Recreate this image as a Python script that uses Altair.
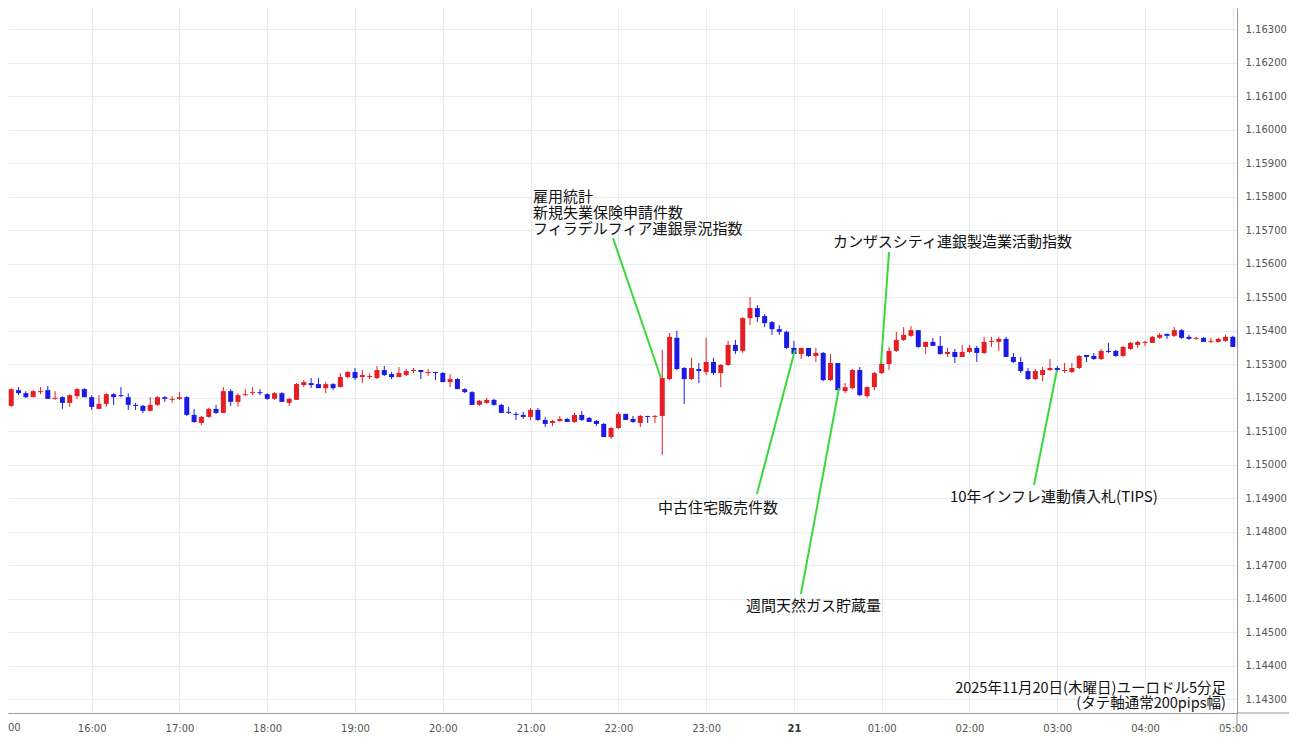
import altair as alt
import pandas as pd

# ---- 5-minute EUR/USD candles, 2025-11-20 15:00 -> 2025-11-21 05:00 ----
opens = [
    1.15157, 1.15175, 1.15222, 1.15213, 1.15201, 1.15216, 1.15222, 1.15196, 1.15201, 1.15184,
    1.15204, 1.15225, 1.15201, 1.15166, 1.15181, 1.15210, 1.15207, 1.15201, 1.15178, 1.15175,
    1.15160, 1.15178, 1.15201, 1.15193, 1.15196, 1.15201, 1.15148, 1.15124, 1.15142, 1.15166,
    1.15154, 1.15219, 1.15187, 1.15207, 1.15213, 1.15216, 1.15210, 1.15196, 1.15213, 1.15184,
    1.15193, 1.15237, 1.15243, 1.15240, 1.15228, 1.15240, 1.15231, 1.15261, 1.15276, 1.15261,
    1.15261, 1.15258, 1.15282, 1.15270, 1.15261, 1.15267, 1.15279, 1.15282, 1.15273, 1.15276,
    1.15273, 1.15246, 1.15255, 1.15225, 1.15216, 1.15178, 1.15184, 1.15193, 1.15178, 1.15157,
    1.15151, 1.15148, 1.15142, 1.15163, 1.15133, 1.15124, 1.15130, 1.15136, 1.15127, 1.15148,
    1.15139, 1.15130, 1.15121, 1.15082, 1.15109, 1.15151, 1.15136, 1.15124, 1.15145, 1.15142,
    1.15145, 1.15255, 1.15378, 1.15288, 1.15255, 1.15285, 1.15276, 1.15306, 1.15273, 1.15297,
    1.15357, 1.15339, 1.15437, 1.15467, 1.15443, 1.15425, 1.15404, 1.15396, 1.15348, 1.15330,
    1.15348, 1.15324, 1.15333, 1.15252, 1.15303, 1.15219, 1.15228, 1.15282, 1.15204, 1.15231,
    1.15273, 1.15300, 1.15339, 1.15372, 1.15384, 1.15401, 1.15351, 1.15366, 1.15354, 1.15330,
    1.15336, 1.15321, 1.15336, 1.15348, 1.15333, 1.15366, 1.15366, 1.15375, 1.15321, 1.15306,
    1.15279, 1.15255, 1.15267, 1.15282, 1.15288, 1.15279, 1.15276, 1.15288, 1.15327, 1.15324,
    1.15315, 1.15339, 1.15339, 1.15324, 1.15345, 1.15357, 1.15363, 1.15363, 1.15378, 1.15390,
    1.15384, 1.15401, 1.15381, 1.15375, 1.15378, 1.15366, 1.15366, 1.15369, 1.15381,
]
highs = [
    1.15181, 1.15228, 1.15231, 1.15219, 1.15222, 1.15231, 1.15234, 1.15219, 1.15204, 1.15210,
    1.15228, 1.15228, 1.15207, 1.15207, 1.15213, 1.15213, 1.15231, 1.15213, 1.15184, 1.15178,
    1.15201, 1.15204, 1.15204, 1.15204, 1.15216, 1.15204, 1.15166, 1.15145, 1.15169, 1.15178,
    1.15231, 1.15225, 1.15213, 1.15225, 1.15231, 1.15225, 1.15213, 1.15216, 1.15216, 1.15199,
    1.15243, 1.15252, 1.15258, 1.15258, 1.15246, 1.15243, 1.15273, 1.15279, 1.15288, 1.15282,
    1.15273, 1.15294, 1.15294, 1.15276, 1.15291, 1.15285, 1.15288, 1.15282, 1.15285, 1.15276,
    1.15276, 1.15270, 1.15258, 1.15228, 1.15219, 1.15193, 1.15199, 1.15196, 1.15181, 1.15172,
    1.15157, 1.15157, 1.15169, 1.15169, 1.15142, 1.15133, 1.15145, 1.15139, 1.15154, 1.15160,
    1.15142, 1.15133, 1.15124, 1.15112, 1.15157, 1.15151, 1.15145, 1.15148, 1.15145, 1.15148,
    1.15342, 1.15393, 1.15399, 1.15291, 1.15318, 1.15303, 1.15378, 1.15318, 1.15300, 1.15369,
    1.15372, 1.15440, 1.15500, 1.15476, 1.15449, 1.15428, 1.15416, 1.15399, 1.15369, 1.15348,
    1.15348, 1.15348, 1.15336, 1.15330, 1.15303, 1.15243, 1.15285, 1.15291, 1.15234, 1.15276,
    1.15306, 1.15351, 1.15396, 1.15410, 1.15413, 1.15401, 1.15366, 1.15378, 1.15384, 1.15348,
    1.15345, 1.15357, 1.15357, 1.15354, 1.15381, 1.15381, 1.15381, 1.15381, 1.15333, 1.15321,
    1.15288, 1.15285, 1.15291, 1.15315, 1.15294, 1.15303, 1.15303, 1.15327, 1.15327, 1.15333,
    1.15345, 1.15363, 1.15342, 1.15354, 1.15366, 1.15369, 1.15369, 1.15384, 1.15393, 1.15390,
    1.15410, 1.15404, 1.15387, 1.15381, 1.15381, 1.15378, 1.15378, 1.15387, 1.15384,
]
lows = [
    1.15151, 1.15172, 1.15207, 1.15199, 1.15201, 1.15210, 1.15196, 1.15193, 1.15166, 1.15172,
    1.15196, 1.15201, 1.15163, 1.15166, 1.15172, 1.15178, 1.15201, 1.15163, 1.15163, 1.15154,
    1.15160, 1.15175, 1.15187, 1.15184, 1.15193, 1.15145, 1.15124, 1.15118, 1.15139, 1.15151,
    1.15154, 1.15175, 1.15172, 1.15204, 1.15207, 1.15207, 1.15193, 1.15193, 1.15187, 1.15175,
    1.15193, 1.15231, 1.15228, 1.15228, 1.15213, 1.15222, 1.15231, 1.15258, 1.15252, 1.15243,
    1.15255, 1.15255, 1.15264, 1.15255, 1.15261, 1.15264, 1.15273, 1.15255, 1.15264, 1.15252,
    1.15246, 1.15231, 1.15225, 1.15213, 1.15178, 1.15175, 1.15181, 1.15175, 1.15154, 1.15151,
    1.15133, 1.15136, 1.15133, 1.15130, 1.15112, 1.15115, 1.15127, 1.15127, 1.15124, 1.15130,
    1.15127, 1.15115, 1.15082, 1.15076, 1.15106, 1.15133, 1.15124, 1.15112, 1.15124, 1.15124,
    1.15028, 1.15252, 1.15282, 1.15181, 1.15252, 1.15243, 1.15267, 1.15267, 1.15231, 1.15294,
    1.15330, 1.15333, 1.15416, 1.15425, 1.15410, 1.15387, 1.15387, 1.15345, 1.15330, 1.15315,
    1.15321, 1.15306, 1.15249, 1.15249, 1.15222, 1.15213, 1.15225, 1.15204, 1.15199, 1.15222,
    1.15270, 1.15282, 1.15336, 1.15369, 1.15381, 1.15348, 1.15330, 1.15354, 1.15327, 1.15321,
    1.15303, 1.15321, 1.15333, 1.15306, 1.15330, 1.15351, 1.15339, 1.15321, 1.15303, 1.15273,
    1.15252, 1.15252, 1.15249, 1.15279, 1.15279, 1.15273, 1.15273, 1.15285, 1.15306, 1.15312,
    1.15312, 1.15333, 1.15321, 1.15321, 1.15342, 1.15348, 1.15354, 1.15363, 1.15375, 1.15375,
    1.15381, 1.15375, 1.15372, 1.15372, 1.15366, 1.15363, 1.15363, 1.15366, 1.15351,
]
closes = [
    1.15175, 1.15225, 1.15213, 1.15201, 1.15219, 1.15219, 1.15196, 1.15199, 1.15184, 1.15207,
    1.15225, 1.15201, 1.15172, 1.15181, 1.15210, 1.15201, 1.15204, 1.15178, 1.15175, 1.15160,
    1.15178, 1.15201, 1.15196, 1.15196, 1.15201, 1.15148, 1.15127, 1.15142, 1.15166, 1.15154,
    1.15219, 1.15187, 1.15207, 1.15210, 1.15216, 1.15213, 1.15196, 1.15213, 1.15187, 1.15196,
    1.15240, 1.15246, 1.15237, 1.15228, 1.15240, 1.15228, 1.15261, 1.15276, 1.15258, 1.15267,
    1.15264, 1.15282, 1.15267, 1.15261, 1.15273, 1.15279, 1.15282, 1.15276, 1.15276, 1.15273,
    1.15246, 1.15255, 1.15225, 1.15216, 1.15178, 1.15190, 1.15193, 1.15178, 1.15154, 1.15154,
    1.15148, 1.15142, 1.15163, 1.15133, 1.15121, 1.15130, 1.15136, 1.15127, 1.15148, 1.15133,
    1.15127, 1.15121, 1.15082, 1.15109, 1.15151, 1.15133, 1.15127, 1.15145, 1.15142, 1.15145,
    1.15258, 1.15381, 1.15285, 1.15255, 1.15288, 1.15279, 1.15306, 1.15273, 1.15297, 1.15357,
    1.15339, 1.15437, 1.15467, 1.15440, 1.15422, 1.15404, 1.15396, 1.15348, 1.15330, 1.15348,
    1.15324, 1.15333, 1.15252, 1.15303, 1.15222, 1.15231, 1.15282, 1.15207, 1.15231, 1.15273,
    1.15300, 1.15339, 1.15372, 1.15387, 1.15401, 1.15351, 1.15366, 1.15354, 1.15330, 1.15336,
    1.15321, 1.15336, 1.15348, 1.15333, 1.15366, 1.15369, 1.15375, 1.15321, 1.15306, 1.15279,
    1.15255, 1.15279, 1.15282, 1.15288, 1.15282, 1.15282, 1.15288, 1.15324, 1.15321, 1.15315,
    1.15339, 1.15336, 1.15324, 1.15351, 1.15363, 1.15366, 1.15366, 1.15381, 1.15387, 1.15384,
    1.15401, 1.15378, 1.15375, 1.15378, 1.15366, 1.15369, 1.15375, 1.15381, 1.15351,
]

# ---- event notes (text anchored in time/price of the first line; "\n" separates lines) ----
note_texts = ["雇用統計\n新規失業保険申請件数\nフィラデルフィア連銀景況指数",
              "カンザスシティ連銀製造業活動指数", "中古住宅販売件数", "週間天然ガス貯蔵量",
              "10年インフレ連動債入札(TIPS)"]
note_times = ["2025-11-20T21:01:40", "2025-11-21T00:26:42", "2025-11-20T22:27:06",
              "2025-11-20T23:27:12", "2025-11-21T01:46:36"]
note_prices = [1.157985, 1.156642, 1.148701, 1.145776, 1.149030]

caption_text = ["2025年11月20日(木曜日)ユーロドル5分足\n(タテ軸通常200pips幅)"]
caption_time = ["2025-11-21T04:55:18"]
caption_price = [1.143299]

# leader lines: from note to candle
line_t1 = ["2025-11-20T21:56:18", "2025-11-21T01:05:00", "2025-11-20T23:34:42",
           "2025-11-21T00:04:48", "2025-11-21T02:44:06"]
line_p1 = [1.156761, 1.156343, 1.149119, 1.146134, 1.149388]
line_t2 = ["2025-11-20T22:29:06", "2025-11-21T00:59:30", "2025-11-21T00:00:42",
           "2025-11-21T00:30:48", "2025-11-21T02:59:48"]
line_p2 = [1.152582, 1.153000, 1.153418, 1.152284, 1.152821]

# y axis tick labels
y_ticks = [round(1.143 + 0.001 * k, 3) for k in range(21)]

# ---------------------------------------------------------------
RED = "#e41e24"
BLUE = "#1a1ae6"
GREEN = "#3ad83a"
GRID = "#e8ecf2"
LABEL = "#555555"
AXIS = "#9a9a9a"
W, H = 1229, 705
PAD_R, PAD_B = 52, 19

times = pd.date_range("2025-11-20 15:00", periods=len(opens), freq="5min")
df = pd.DataFrame({
    "time": times.strftime("%Y-%m-%dT%H:%M:%S"),
    "open": opens, "high": highs, "low": lows, "close": closes,
})
df["dir"] = ["up" if c >= o else "down" for o, c in zip(opens, closes)]
df["btop"] = df[["open", "close"]].max(axis=1)
df["bbot"] = df[["open", "close"]].min(axis=1)

notes = pd.DataFrame({"time": note_times, "price": note_prices, "label": note_texts})
caps = pd.DataFrame({"time": caption_time, "price": caption_price, "label": caption_text})
leads = pd.DataFrame({"t1": line_t1, "p1": line_p1, "t2": line_t2, "p2": line_p2})
one = pd.DataFrame({"label": ["00"]})

hour_ticks = [alt.DateTime(year=t.year, month=t.month, date=t.day, hours=t.hour)
              for t in pd.date_range("2025-11-20 16:00", "2025-11-21 05:00", freq="h")]

xscale = alt.Scale(domain=[alt.DateTime(year=2025, month=11, date=20, hours=15, minutes=2, seconds=48),
                           alt.DateTime(year=2025, month=11, date=21, hours=5, minutes=2, seconds=51)])
yscale = alt.Scale(domain=[1.1425821, 1.1636269], nice=False, zero=False)

xaxis = alt.Axis(
    values=hour_ticks, tickCount=40,
    labelExpr="hours(datum.value) == 0 ? timeFormat(datum.value, '%d') : timeFormat(datum.value, '%H:%M')",
    labelFontWeight={"condition": {"test": "hours(datum.value) == 0", "value": "bold"}, "value": "normal"},
    labelColor={"condition": {"test": "hours(datum.value) == 0", "value": "#333333"}, "value": LABEL},
    grid=True, gridColor=GRID, ticks=False, domainColor=AXIS,
    labelPadding=10, labelFont="DejaVu Sans", labelFontSize=10, labelOverlap=False,
    title=None,
)
yaxis = alt.Axis(
    orient="right", values=y_ticks, tickCount=40, format=".5f",
    grid=True, gridColor=GRID, ticks=False, domainColor=AXIS,
    labelPadding=8, labelFont="DejaVu Sans", labelFontSize=10, labelColor=LABEL,
    labelOverlap=False, title=None,
)

color = alt.Color("dir:N", scale=alt.Scale(domain=["up", "down"], range=[RED, BLUE]), legend=None)

base = alt.Chart(df)
wicks = base.mark_rule(strokeWidth=1, clip=True).encode(
    x=alt.X("time:T", scale=xscale, axis=xaxis),
    y=alt.Y("low:Q", scale=yscale, axis=yaxis),
    y2="high:Q",
    color=color,
)
bodies = base.mark_rule(strokeWidth=5, clip=True).encode(
    x="time:T", y="bbot:Q", y2="btop:Q", color=color,
)

lead_lines = alt.Chart(leads).mark_rule(color=GREEN, strokeWidth=2, clip=True).encode(
    x="t1:T", y="p1:Q", x2="t2:T", y2="p2:Q",
)

note_layer = alt.Chart(notes).mark_text(
    align="left", baseline="middle", font="Noto Sans CJK JP", fontSize=15,
    lineBreak="\n", lineHeight=16, color="#111111",
).encode(x="time:T", y="price:Q", text="label:N")

cap_layer = alt.Chart(caps).mark_text(
    align="right", baseline="middle", font="Noto Sans CJK JP", fontSize=14.5,
    lineBreak="\n", lineHeight=15, color="#111111",
).encode(x="time:T", y="price:Q", text="label:N")

# left-edge fragment of the cut-off "15:00" axis label
edge_label = alt.Chart(one).mark_text(
    align="left", baseline="top", font="DejaVu Sans", fontSize=10, color=LABEL, clip=False,
).encode(x=alt.value(0), y=alt.value(H + 10), text="label:N")

# axis lines continuing into the margin (as in the reference's frame)
frame_h = alt.Chart(one).mark_rule(color=AXIS, strokeWidth=1, clip=False).encode(
    x=alt.value(W), x2=alt.value(W + PAD_R), y=alt.value(H))
frame_v = alt.Chart(one).mark_rule(color=AXIS, strokeWidth=1, clip=False).encode(
    x=alt.value(W), y=alt.value(H), y2=alt.value(H + PAD_B))

chart = alt.layer(wicks, bodies, lead_lines, note_layer, cap_layer, edge_label,
                  frame_h, frame_v).properties(
    width=W, height=H,
    padding={"left": 0, "top": 0, "right": PAD_R, "bottom": PAD_B},
    autosize=alt.AutoSizeParams(type="none"),
    background="white",
).configure_view(stroke=None)

chart.save("out.html", embed_options={"renderer": "svg", "actions": False})
